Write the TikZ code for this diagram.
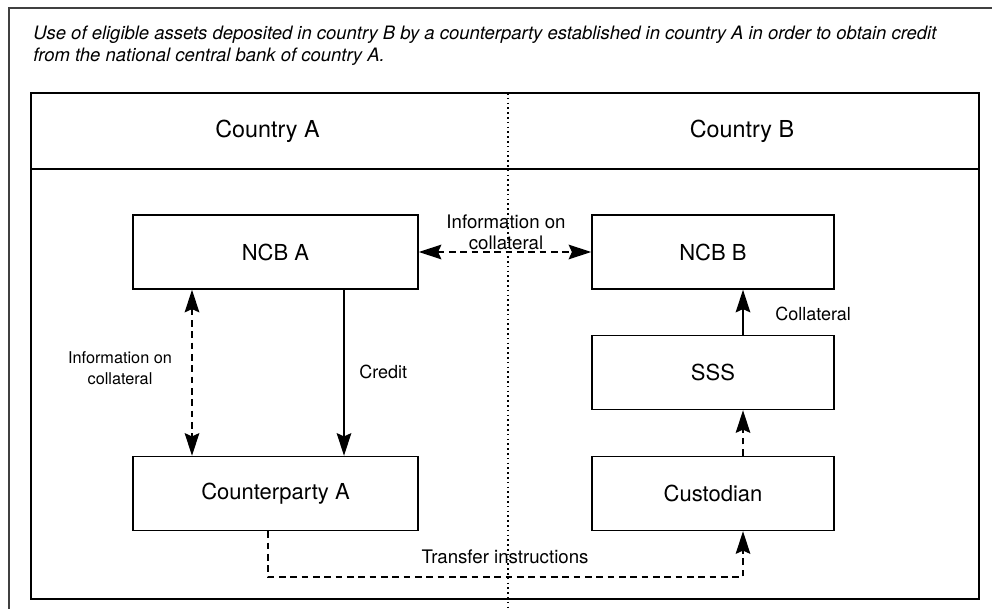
\documentclass[tikz,border=0pt]{standalone}
\usepackage{fontspec}
\setmainfont{TeX Gyre Heros}
\usetikzlibrary{positioning}
\usetikzlibrary{arrows.meta}

\begin{document}
\begin{tikzpicture}[x=0.75pt, y=-0.75pt,
    box/.style={draw, line width=1.1pt, inner sep=0pt, minimum height=55.5pt, font=\fontsize{16.5}{18}\selectfont},
    wide/.style={box, minimum width=213.75pt},
    narrow/.style={box, minimum width=181.5pt},
    lbl/.style={align=center, font=\fontsize{13.5}{15.5}\selectfont},
    tip/.style={-{Stealth[length=17pt,width=11pt,inset=2.5pt]}},
    ttip/.style={{Stealth[length=17pt,width=11pt,inset=2.5pt]}-{Stealth[length=17pt,width=11pt,inset=2.5pt]}},
    dsh/.style={dash pattern=on 5pt off 3.5pt}]
  \useasboundingbox (0,0) rectangle (992,609);
  % outer frame and caption
  \draw[line width=1.4pt, black!75] (9,609) -- (9,8) -- (992,8);
  \node[anchor=north west, align=left, inner sep=0pt, font=\itshape\fontsize{13.85}{16.5}\selectfont] (caption) at (33,26)
    {Use of eligible assets deposited in country B by a counterparty established in country A in order to obtain credit\\
     from the national central bank of country A.};
  % country frame
  \draw[line width=1.1pt] (31,93) rectangle (979,599);
  \draw[line width=1.1pt] (31,169) -- (979,169);
  \draw[line width=0.9pt, dash pattern=on 1.2pt off 2.4pt] (508,93) -- (508,609);
  \node[font=\fontsize{17.5}{19}\selectfont] (countrya) at (267.5,131) {Country A};
  \node[font=\fontsize{17.5}{19}\selectfont] (countryb) at (742,131) {Country B};

  % boxes
  \node[wide] (ncba) at (275.5,252) {NCB A};
  \node[wide] (cpa) at (275.5,493.5) {Counterparty A};
  \node[narrow] (ncbb) at (713,252) {NCB B};
  \node[narrow] (sss) at (713,372.5) {SSS};
  \node[narrow] (cust) at (713,493.5) {Custodian};

  \coordinate (xinfo) at (192,0);
  \coordinate (xcred) at (344,0);
  \coordinate (xtran) at (268,0);
  \coordinate (xcoll) at (743,0);
  \coordinate (ytran) at (0,577);

  % connectors
  \draw[line width=0.9pt, dsh, ttip] (ncba.east) -- (ncbb.west);
  \draw[line width=0.9pt, dsh, ttip] (ncba.south -| xinfo) -- (cpa.north -| xinfo);
  \draw[line width=0.9pt, tip] (ncba.south -| xcred) -- (cpa.north -| xcred);
  \draw[line width=0.9pt, tip] (sss.north -| xcoll) -- (ncbb.south -| xcoll);
  \draw[line width=0.9pt, dsh, tip] (cust.north -| xcoll) -- (sss.south -| xcoll);
  \draw[line width=0.9pt, dsh, tip] (cpa.south -| xtran) -- (xtran |- ytran) -- (xcoll |- ytran) -- (cust.south -| xcoll);

  % labels
  \node[lbl, font=\fontsize{14}{15.5}\selectfont] (infotop) at (506,232) {Information on\\collateral};
  \node[lbl, font=\fontsize{12.2}{15.5}\selectfont] (infoleft) at (120,368) {Information on\\collateral};
  \node[lbl, anchor=west, inner sep=0pt] (credit) at (359,372) {Credit};
  \node[lbl, anchor=west, inner sep=0pt] (collateral) at (775,314) {Collateral};
  \node[lbl, font=\fontsize{14}{15.5}\selectfont] (transfer) at (505,557) {Transfer instructions};
\end{tikzpicture}
\end{document}
